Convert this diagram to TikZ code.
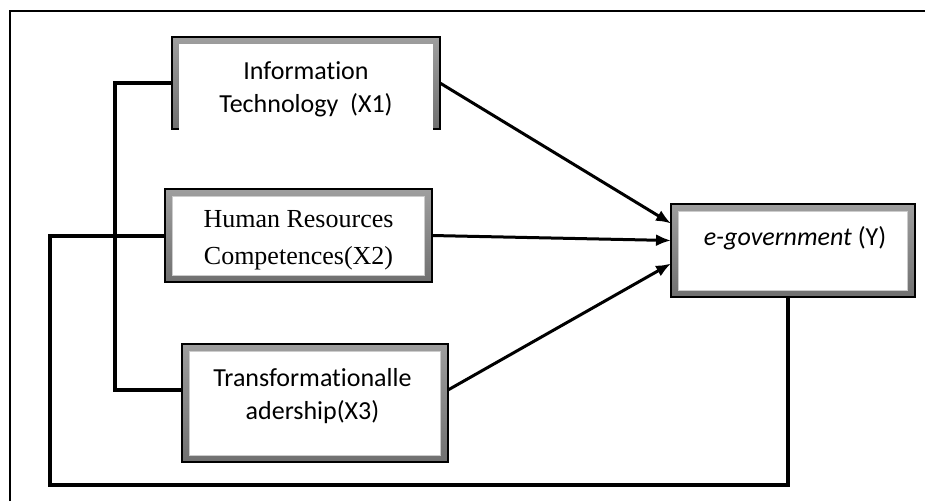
\documentclass[tikz,border=0pt]{standalone}
\usepackage{fontspec}
\setmainfont{Carlito}[RawFeature=-liga]
\newfontfamily\timesfont{Liberation Serif}
\usetikzlibrary{calc,arrows.meta}
\newcommand{\bandtop}{black!38}
\newcommand{\bandbot}{black!56}
\newcommand{\wire}{0.8mm}
\newcommand{\arrowthick}{0.6mm}

\tikzset{
varbox/.style={draw=black, line width=0.25mm, top color=\bandtop, bottom color=\bandbot, inner sep=0pt, outer sep=0pt},
varface/.style={fill=white, draw=black!20, line width=0.2mm, inner sep=0pt, outer sep=0pt},
vartext/.style={align=center, inner sep=0pt, font=\fontsize{14.8}{18.8}\selectfont},
arrowline/.style={line width=\arrowthick, -{Latex[length=3mm,width=2.4mm]}},
wireline/.style={line width=\wire}
}

\begin{document}
\begin{tikzpicture}[x=0.02cm, y=-0.02cm]
\useasboundingbox (0,0) rectangle (925,501);
%frame
\draw[line width=0.4mm] (10,501) -- (10,11) -- (925,11);
%boxes
\node[varbox, minimum width=5.36cm, minimum height=1.84cm] (x1) at (306,83) {};
\node[varbox, minimum width=5.34cm, minimum height=1.86cm] (x2) at (298.5,235.5) {};
\node[varbox, minimum width=5.32cm, minimum height=2.36cm] (x3) at (315,403) {};
\node[varbox, minimum width=4.88cm, minimum height=1.86cm] (y) at (793,250.5) {};
\node[varface, draw=none, minimum width=5.08cm, minimum height=1.74cm] (x1face) at (306,87.5) {};
\node[varface, minimum width=5.06cm, minimum height=1.58cm] (x2face) at (298.5,235.5) {};
\node[varface, minimum width=5.04cm, minimum height=2.08cm] (x3face) at (315,403) {};
\node[varface, minimum width=4.60cm, minimum height=1.58cm] (yface) at (793,250.5) {};
%labels
\node[vartext] (x1text) at (306,89) {Information\\Technology~~(X1)};
\node[vartext, font=\timesfont\fontsize{14.8}{21}\selectfont] (x2text) at (298.5,240) {Human Resources\\Competences(X2)};
\node[vartext] (x3text) at (312.5,396) {Transformationalle\\adership(X3)};
\node[vartext] (ytext) at (795,238) {\textit{e-government} (Y)};
%wires
\coordinate (c3) at (115,390);
\coordinate (c4) at (50,485);
\coordinate (c5) at (788,485);
\draw[wireline] (x1.west) -| (c3) -- (x3.west |- c3);
\draw[wireline] (x2.west) -| (c4) -- (c5) -- (c5 |- y.south);
%arrows
\draw[arrowline] (x1.east) -- ($(y.west)+(0,-27)$);
\draw[arrowline] (x2.east) -- ($(y.west)+(0,-10)$);
\draw[arrowline] ($(x3.east)+(0,-13)$) -- ($(y.west)+(0,13)$);
\end{tikzpicture}
\end{document}
